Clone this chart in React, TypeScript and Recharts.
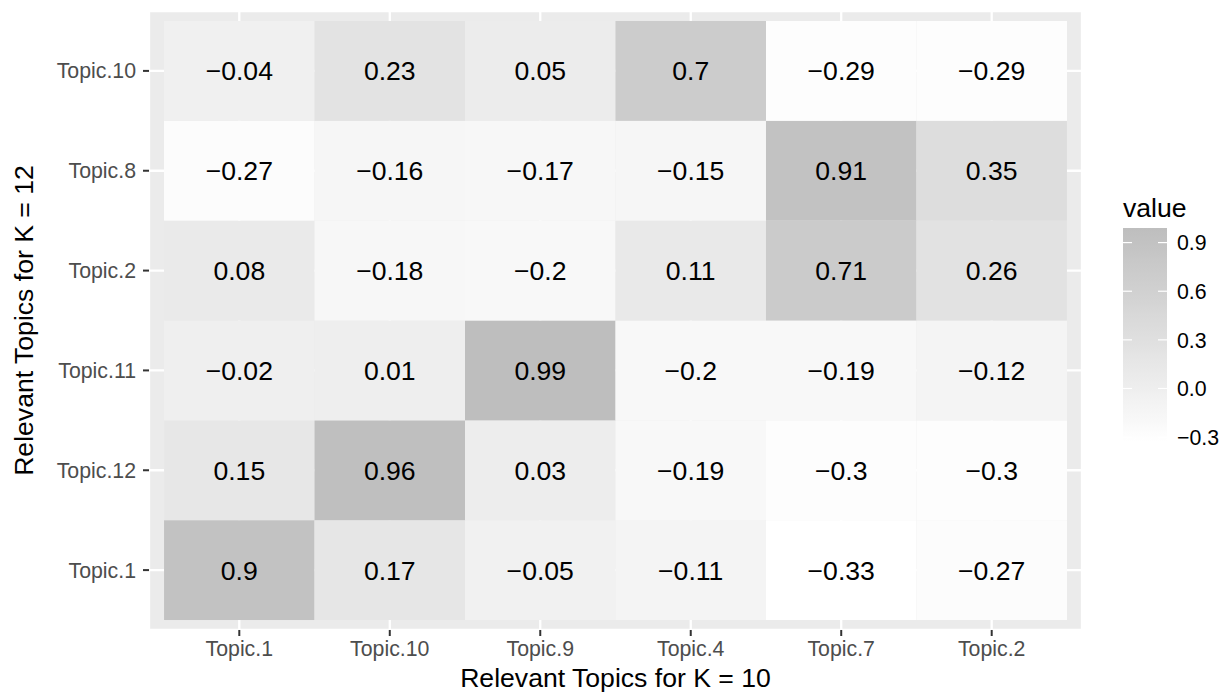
import React from 'react'
import { ScatterChart, Scatter, XAxis, YAxis, CartesianGrid, Legend } from 'recharts'

// columns (K = 10) left to right, rows (K = 12) bottom to top
const xTopics = ['Topic.1', 'Topic.10', 'Topic.9', 'Topic.4', 'Topic.7', 'Topic.2']
const yTopics = ['Topic.1', 'Topic.12', 'Topic.11', 'Topic.2', 'Topic.8', 'Topic.10']

// correlation values, one array per row (same order as yTopics)
const rowTopic1 = [0.9, 0.17, -0.05, -0.11, -0.33, -0.27]
const rowTopic12 = [0.15, 0.96, 0.03, -0.19, -0.3, -0.3]
const rowTopic11 = [-0.02, 0.01, 0.99, -0.2, -0.19, -0.12]
const rowTopic2 = [0.08, -0.18, -0.2, 0.11, 0.71, 0.26]
const rowTopic8 = [-0.27, -0.16, -0.17, -0.15, 0.91, 0.35]
const rowTopic10 = [-0.04, 0.23, 0.05, 0.7, -0.29, -0.29]

const legendBreaks = [0.9, 0.6, 0.3, 0.0, -0.3]

const rows = [rowTopic1, rowTopic12, rowTopic11, rowTopic2, rowTopic8, rowTopic10]
const allValues = rows.flat()
const vMin = Math.min(...allValues)
const vMax = Math.max(...allValues)

const cells = rows.flatMap((row, yi) =>
  row.map((value, xi) => ({ x: xi + 1, y: yi + 1, value }))
)

const FONT = 'Liberation Sans, Arial, Helvetica, sans-serif'
const W = 1225
const H = 698
const M = { top: 11, right: 143, bottom: 0, left: 0 }
const Y_AXIS_W = 149
const X_AXIS_H = 68
const DOMAIN: [number, number] = [0.4, 6.6]
const plotW = W - M.left - M.right - Y_AXIS_W
const plotH = H - M.top - M.bottom - X_AXIS_H
const cellW = plotW / (DOMAIN[1] - DOMAIN[0])
const cellH = plotH / (DOMAIN[1] - DOMAIN[0])

// white -> grey gradient interpolated in Lab (grey so only L changes)
const toLin = (c: number) => {
  const s = c / 255
  return s <= 0.04045 ? s / 12.92 : Math.pow((s + 0.055) / 1.055, 2.4)
}
const fromLin = (l: number) => {
  const s = l <= 0.0031308 ? l * 12.92 : 1.055 * Math.pow(l, 1 / 2.4) - 0.055
  return Math.round(Math.max(0, Math.min(1, s)) * 255)
}
const lOf = (c: number) => {
  const y = toLin(c)
  return y > 0.008856 ? 116 * Math.cbrt(y) - 16 : 903.3 * y
}
const L_LOW = lOf(255)
const L_HIGH = lOf(190)
function fillFor(v: number) {
  const t = (v - vMin) / (vMax - vMin)
  const L = L_LOW + (L_HIGH - L_LOW) * t
  const fy = (L + 16) / 116
  const y = L > 8 ? fy * fy * fy : L / 903.3
  const g = fromLin(y)
  return `rgb(${g},${g},${g})`
}

const fmt = (v: number) => (v < 0 ? '\u2212' + String(Math.abs(v)) : String(v))

const Tile = (props: any) => {
  const { cx, cy, payload } = props
  return (
    <g>
      <rect x={cx - cellW / 2} y={cy - cellH / 2} width={cellW} height={cellH} fill={fillFor(payload.value)} />
      <text x={cx} y={cy} dy="0.36em" textAnchor="middle" fontSize={26.6} fontFamily={FONT} fill="#000">
        {fmt(payload.value)}
      </text>
    </g>
  )
}

const ColorBar = () => {
  const barX = 23
  const barY = 38
  const barW = 44
  const barH = 214
  const stops = Array.from({ length: 21 }, (_, i) => i / 20)
  const yFor = (v: number) => barY + ((vMax - v) / (vMax - vMin)) * barH
  return (
    <svg width={125} height={270} style={{ fontFamily: FONT }}>
      <defs>
        <linearGradient id="bar" x1="0" y1="0" x2="0" y2="1">
          {stops.map(s => (
            <stop key={s} offset={s} stopColor={fillFor(vMax - s * (vMax - vMin))} />
          ))}
        </linearGradient>
      </defs>
      <text x={barX} y={26.5} fontSize={26.6} fill="#000">value</text>
      <rect x={barX} y={barY} width={barW} height={barH} fill="url(#bar)" />
      {legendBreaks.map(b => (
        <g key={b}>
          <line x1={barX} x2={barX + 9} y1={yFor(b)} y2={yFor(b)} stroke="#fff" strokeWidth={1.2} />
          <line x1={barX + barW - 9} x2={barX + barW} y1={yFor(b)} y2={yFor(b)} stroke="#fff" strokeWidth={1.2} />
          <text x={barX + 54} y={yFor(b)} dy="0.36em" fontSize={21.3} fill="#000">
            {b === 0 ? '0.0' : fmt(b)}
          </text>
        </g>
      ))}
    </svg>
  )
}

const XTitle = ({ viewBox }: any) => (
  <text x={viewBox.x + viewBox.width / 2} y={viewBox.y + 57} textAnchor="middle" fontSize={26.6} fontFamily={FONT} fill="#000">
    Relevant Topics for K = 10
  </text>
)

const YTitle = ({ viewBox }: any) => {
  const cy = viewBox.y + viewBox.height / 2
  return (
    <text x={33} y={cy} transform={`rotate(-90, 33, ${cy})`} textAnchor="middle" fontSize={26.6} fontFamily={FONT} fill="#000">
      Relevant Topics for K = 12
    </text>
  )
}

export default function App() {
  return (
    <div style={{ position: 'absolute', left: 0, top: 0, width: W, height: H, background: '#fff' }}>
      <ScatterChart width={W} height={H} margin={M}>
        <CartesianGrid fill="#EBEBEB" fillOpacity={1} stroke="#fff" strokeWidth={2.3} />
        <XAxis
          type="number"
          dataKey="x"
          domain={DOMAIN}
          ticks={[1, 2, 3, 4, 5, 6]}
          interval={0}
          tickFormatter={(i: number) => xTopics[i - 1]}
          height={X_AXIS_H}
          axisLine={false}
          tickSize={6}
          tickMargin={5}
          tickLine={{ stroke: '#333333', strokeWidth: 2 }}
          tick={{ fill: '#4D4D4D', fontSize: 21.3, fontFamily: FONT }}
          label={<XTitle />}
        />
        <YAxis
          type="number"
          dataKey="y"
          domain={DOMAIN}
          ticks={[1, 2, 3, 4, 5, 6]}
          interval={0}
          tickFormatter={(i: number) => yTopics[i - 1]}
          width={Y_AXIS_W}
          axisLine={false}
          tickSize={6}
          tickMargin={7}
          tickLine={{ stroke: '#333333', strokeWidth: 2 }}
          tick={{ fill: '#4D4D4D', fontSize: 21.3, fontFamily: FONT }}
          label={<YTitle />}
        />
        <Legend
          layout="horizontal"
          verticalAlign="middle"
          align="center"
          content={() => <ColorBar />}
          wrapperStyle={{ left: 1100, top: 190, width: 125, height: 270 }}
        />
        <Scatter data={cells} shape={<Tile />} isAnimationActive={false} />
      </ScatterChart>
    </div>
  )
}
